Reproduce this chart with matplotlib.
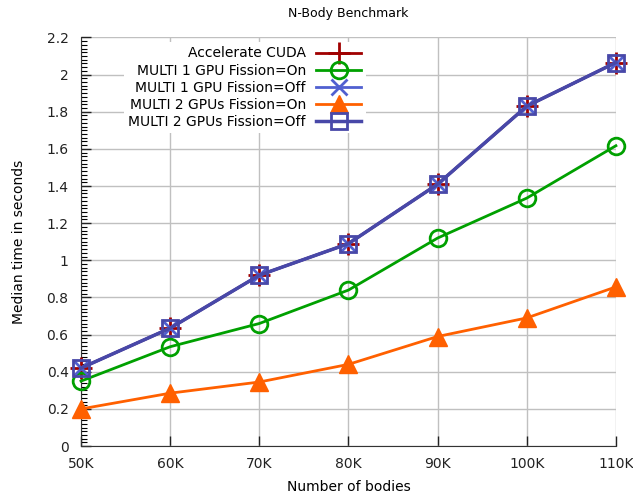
import matplotlib
matplotlib.use("Agg")
import matplotlib.pyplot as plt
from matplotlib.ticker import MultipleLocator

bodies = [50, 60, 70, 80, 90, 100, 110]
xlabels = ["50K", "60K", "70K", "80K", "90K", "100K", "110K"]
accel_cuda = [0.42, 0.635, 0.92, 1.09, 1.41, 1.83, 2.065]
multi1_on = [0.35, 0.535, 0.66, 0.84, 1.12, 1.335, 1.617]
multi1_off = [0.42, 0.635, 0.92, 1.09, 1.41, 1.83, 2.065]
multi2_on = [0.20, 0.285, 0.345, 0.44, 0.59, 0.69, 0.857]
multi2_off = [0.42, 0.635, 0.92, 1.09, 1.41, 1.83, 2.065]
yticks = [0.0, 0.2, 0.4, 0.6, 0.8, 1.0, 1.2, 1.4, 1.6, 1.8, 2.0, 2.2]

fig = plt.figure(figsize=(6.33, 4.99), dpi=100)
ax = fig.add_axes([0.128, 0.106, 0.845, 0.819])

ax.plot(bodies, accel_cuda, color="#a00000", lw=2, marker="+", ms=16, mew=2,
        label="Accelerate CUDA", zorder=3, clip_on=False)
ax.plot(bodies, multi1_on, color="#00a000", lw=2, marker="o", ms=12, mew=2,
        mfc="none", label="MULTI 1 GPU Fission=On", zorder=3, clip_on=False)
ax.plot(bodies, multi1_off, color="#5060d0", lw=2, marker="x", ms=12, mew=2,
        label="MULTI 1 GPU Fission=Off", zorder=3, clip_on=False)
ax.plot(bodies, multi2_on, color="#ff6000", lw=2, marker="^", ms=13,
        label="MULTI 2 GPUs Fission=On", zorder=3, clip_on=False)
ax.plot(bodies, multi2_off, color="#4848a8", lw=2.5, marker="s", ms=12, mew=2,
        mfc="none", label="MULTI 2 GPUs Fission=Off", zorder=3, clip_on=False)

ax.set_xlim(50, 110)
ax.set_ylim(0, 2.2)
ax.set_xticks(bodies)
ax.set_xticklabels(xlabels)
ax.set_yticks(yticks)
ax.set_yticklabels([f"{v:g}" for v in yticks])
ax.yaxis.set_minor_locator(MultipleLocator(0.02))
ax.tick_params(direction="in", labelsize=10, colors="#222222", length=7, width=1)
ax.tick_params(axis="x", pad=8)
ax.tick_params(axis="y", pad=9)
ax.tick_params(which="minor", direction="in", length=4, width=0.8)
for s in ["top", "right"]:
    ax.spines[s].set_visible(False)
for s in ["left", "bottom"]:
    ax.spines[s].set_color("#333333")
ax.grid(True, color="#c0c0c0", lw=1)
ax.set_axisbelow(True)

ax.set_title("N-Body Benchmark", fontsize=9, pad=15)
ax.set_xlabel("Number of bodies", fontsize=10, labelpad=6)
ax.set_ylabel("Median time in seconds", fontsize=10, labelpad=15)

leg = ax.legend(loc="upper right", bbox_to_anchor=(0.545, 1.005), markerfirst=False,
                fontsize=10, frameon=True, edgecolor="none", facecolor="white",
                framealpha=1, handlelength=3.3, labelspacing=0.22, borderpad=0.3,
                handletextpad=0.7, fancybox=False)
leg.set_zorder(5)
for t in leg.get_texts():
    t.set_ha("right")
leg._legend_box.align = "right"

fig.savefig("out.png", dpi=100)
